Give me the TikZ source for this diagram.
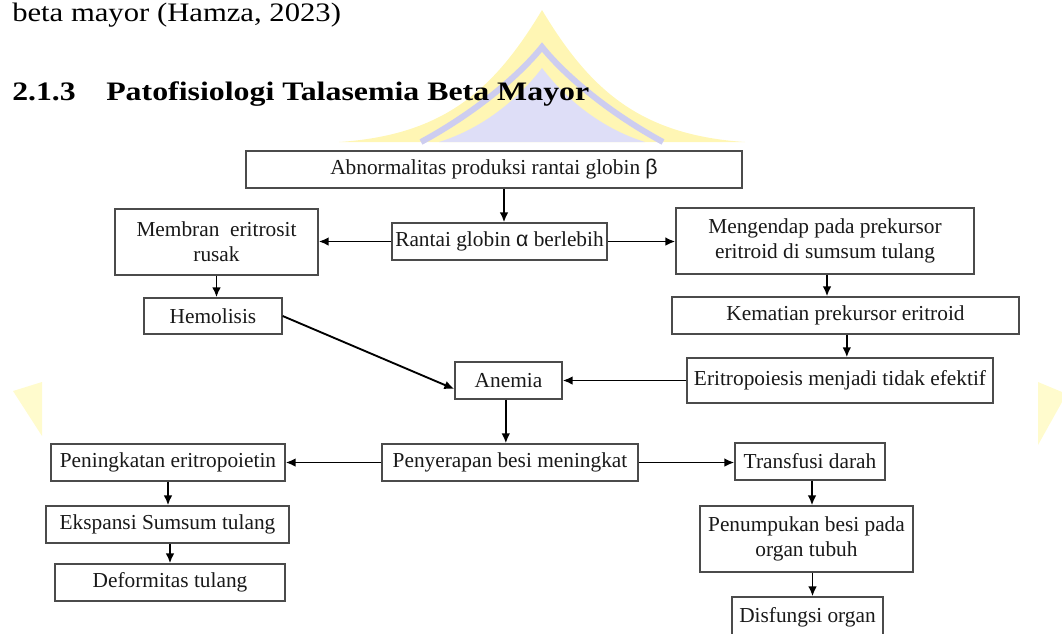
\documentclass[tikz,border=0pt]{standalone}
\usepackage{fontspec}
\setmainfont{Liberation Serif}
\newfontfamily\grk{Liberation Sans}
\usetikzlibrary{arrows.meta,calc}
\definecolor{wmy}{RGB}{255,246,180}
\definecolor{wml}{RGB}{222,222,247}
\definecolor{wms}{RGB}{205,205,240}
\definecolor{wmt}{RGB}{255,251,205}
\definecolor{bxc}{RGB}{75,75,75}
\definecolor{txc}{RGB}{25,25,25}
\newcommand\mkbox[6]{%
 \pgfmathsetmacro\mbcx{(#2+#4)/2}%
 \pgfmathsetmacro\mbcy{(#3+#5)/2}%
 \pgfmathsetmacro\mbw{(#4-#2)*0.75}%
 \pgfmathsetmacro\mbh{(#5-#3)*0.75}%
 \node[bxs,minimum width=\mbw pt,minimum height=\mbh pt] (#1) at (\mbcx,\mbcy) {#6};}
\begin{document}
\begin{tikzpicture}[x=0.75pt,y=-0.75pt,
  bxs/.style={draw=bxc,line width=1pt,fill=white,inner sep=0pt,align=center,text=txc,font=\fontsize{16}{18.5}\selectfont},
  arr/.style={line width=1.4pt,-{Latex[length=7.5pt,width=6.5pt]}},
  head/.style={anchor=base west,inner sep=0pt,text=black}]
\useasboundingbox (0,0) rectangle (1062,633);
% watermark
\fill[wmy] (542,10) .. controls (590,90) and (640,135) .. (745,142) -- (339,142) .. controls (444,135) and (494,90) .. (542,10) -- cycle;
\draw[wms,line width=4.5pt] (421,142) .. controls (480,110) and (522,72) .. (542,47) .. controls (562,72) and (604,110) .. (663,142);
\fill[wml] (542,68) .. controls (565,98) and (600,128) .. (645,142) -- (439,142) .. controls (484,128) and (519,98) .. (542,68) -- cycle;
\fill[wmt] (13,391) -- (42,382) -- (42,436) -- cycle;
\fill[wmt] (1038,382) -- (1062,392) -- (1062,402) -- (1038,445) -- cycle;
% heading
\node[head] (l1) at (12,21) {\scalebox{1.15}[1]{\fontsize{20}{24}\selectfont beta mayor (Hamza, 2023)}};
\node[head] (h1) at (12,100) {\scalebox{1.19}[1]{\fontsize{20}{24}\selectfont\bfseries 2.1.3}};
\node[head] (h2) at (106,100) {\scalebox{1.195}[1]{\fontsize{20}{24}\selectfont\bfseries Patofisiologi Talasemia Beta Mayor}};
% boxes
\mkbox{abn}{246}{151}{742}{188}{Abnormalitas produksi rantai globin {\grk β}}
\mkbox{rant}{392}{223}{607}{260}{Rantai globin {\grk α} berlebih}
\mkbox{mem}{115}{209}{318}{275}{Membran\ \ eritrosit\\rusak}
\mkbox{meng}{676}{208}{974}{274}{Mengendap pada prekursor\\eritroid di sumsum tulang}
\mkbox{hem}{144}{298}{282}{334}{Hemolisis}
\mkbox{kem}{672}{297}{1019}{334}{Kematian prekursor eritroid}
\mkbox{erit}{687}{358}{993}{403}{Eritropoiesis menjadi tidak efektif}
\mkbox{anem}{455}{362}{562}{399}{Anemia}
\mkbox{peny}{382}{444}{638}{481}{Penyerapan besi meningkat}
\mkbox{pening}{51}{444}{285}{481}{Peningkatan eritropoietin}
\mkbox{trans}{735}{443}{885}{480}{Transfusi darah}
\mkbox{eksp}{46}{506}{289}{543}{Ekspansi Sumsum tulang}
\mkbox{def}{55}{564}{285}{601}{Deformitas tulang}
\mkbox{penum}{700}{506}{913}{572}{Penumpukan besi pada\\organ tubuh}
\mkbox{disf}{732}{597}{883}{637}{Disfungsi organ}
% arrows
\draw[arr] ([xshift=7.5pt]abn.south) -- ([xshift=7.5pt]abn.south |- rant.north);
\draw[arr] (rant.west) -- (rant.west -| mem.east);
\draw[arr] (rant.east) -- (rant.east -| meng.west);
\draw[arr] (mem.south) -- (mem.south |- hem.north);
\draw[arr] ([xshift=1.5pt]meng.south) -- ([xshift=1.5pt]meng.south |- kem.north);
\draw[arr] ([xshift=1pt]kem.south) -- ([xshift=1pt]kem.south |- erit.north);
\draw[arr] (erit.west) -- (erit.west -| anem.east);
\draw[arr] (hem.east) -- ([yshift=-6.4pt]anem.west);
\draw[arr] ([xshift=-2pt]anem.south) -- ([xshift=-2pt]anem.south |- peny.north);
\draw[arr] (peny.west) -- (peny.west -| pening.east);
\draw[arr] (peny.east) -- (peny.east -| trans.west);
\draw[arr] (pening.south) -- (pening.south |- eksp.north);
\draw[arr] (eksp.south -| def.north) -- (def.north);
\draw[arr] ([xshift=1.5pt]trans.south) -- ([xshift=1.5pt]trans.south |- penum.north);
\draw[arr] ([xshift=4.5pt]penum.south) -- ([xshift=4.5pt]penum.south |- disf.north);
\end{tikzpicture}
\end{document}
